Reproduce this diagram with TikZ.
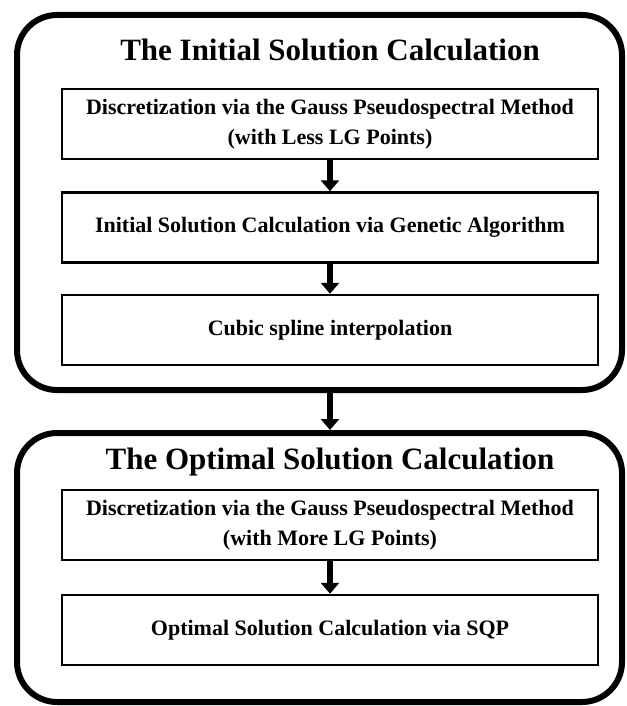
\documentclass[tikz,border=0pt]{standalone}
\usepackage{fontspec}
\setmainfont{Liberation Serif}
\usetikzlibrary{arrows.meta}

\begin{document}
\begin{tikzpicture}[x=1pt,y=-1pt,
	stage/.style={draw,line width=6pt,rounded corners=40pt,minimum width=605pt,inner sep=0pt},
	stepbox/.style={draw,line width=2.5pt,minimum width=536pt,minimum height=70pt,inner sep=0pt,align=center,font=\bfseries\fontsize{22}{30}\selectfont},
	heading/.style={font=\bfseries\fontsize{31}{36}\selectfont},
	flow/.style={line width=6pt,-{Triangle[width=18pt,length=11pt]}}]

\useasboundingbox (0,0) rectangle (626,706);

% first stage
\node[stage,minimum height=375pt] (initial) at (319.5,202.5) {};
\node[heading] (initialtitle) at (330,50) {The Initial Solution Calculation};
\node[stepbox] (coarse) at (330,124) {Discretization via the Gauss Pseudospectral Method\\(with Less LG Points)};
\node[stepbox] (genetic) at (330,227.5) {Initial Solution Calculation via Genetic Algorithm};
\node[stepbox] (spline) at (330,330) {Cubic spline interpolation};

% second stage
\node[stage,minimum height=269pt] (optimal) at (319.5,567.5) {};
\node[heading] (optimaltitle) at (330,462) {The Optimal Solution Calculation};
\node[stepbox] (fine) at (330,525) {Discretization via the Gauss Pseudospectral Method\\(with More LG Points)};
\node[stepbox] (sqp) at (330,630) {Optimal Solution Calculation via SQP};

\foreach \a/\b in {coarse/genetic, genetic/spline, fine/sqp}
	\draw[flow] (\a.south) -- (\b.north);
\draw[flow] (initial.south -| coarse.south) -- (optimal.north -| coarse.south);

\end{tikzpicture}
\end{document}
